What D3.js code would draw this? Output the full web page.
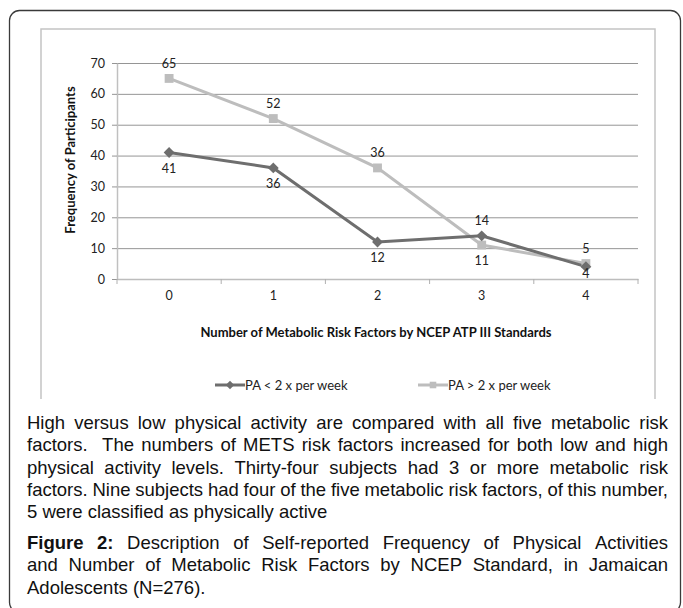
<!DOCTYPE html>
<html>
<head>
<meta charset="utf-8">
<script src="https://cdn.jsdelivr.net/npm/d3@7"></script>
<style>
  body { margin: 0; background: #fff; }
  svg { display: block; }
</style>
</head>
<body>
<svg id="chart" width="683" height="608"></svg>
<script>
// data
var categories = ["0", "1", "2", "3", "4"];
var lowPA = [41, 36, 12, 14, 4];     // PA < 2 x per week
var highPA = [65, 52, 36, 11, 5];    // PA > 2 x per week
var lowLabelSide = ["below", "below", "below", "above", "below"];
var highLabelSide = ["above", "above", "above", "below", "above"];
var yTicks = [0, 10, 20, 30, 40, 50, 60, 70];
var seriesNames = ["PA < 2 x per week", "PA > 2 x per week"];
var xTitle = "Number of Metabolic Risk Factors by NCEP ATP III Standards";
var yTitle = "Frequency of Participants";

var captionLines = [
  "High versus low physical activity are compared with all five metabolic risk",
  "factors.  The numbers of METS risk factors increased for both low and high",
  "physical activity levels. Thirty-four subjects had 3 or more metabolic risk",
  "factors. Nine subjects had four of the five metabolic risk factors, of this number,",
  "5 were classified as physically active"
];
var figureLines = [
  "**Figure 2:** Description of Self-reported Frequency of Physical Activities",
  "and Number of Metabolic Risk Factors by NCEP Standard, in Jamaican",
  "Adolescents (N=276)."
];

var svg = d3.select("#chart");
var chartFont = "Lato, 'Open Sans', sans-serif";
var darkCol = "#6e6e6e", lightCol = "#bdbdbd";
var labelSize = 12.5;

// outer rounded frame
svg.append("rect")
  .attr("x", 9.5).attr("y", 10.5)
  .attr("width", 671).attr("height", 602)
  .attr("rx", 10)
  .attr("fill", "none")
  .attr("stroke", "#3a3a3a")
  .attr("stroke-width", 1.3);

// chart area frame (bottom edge cut off)
svg.append("path")
  .attr("d", "M41,399 V29 H655 V399")
  .attr("fill", "none")
  .attr("stroke", "#c4c4c4")
  .attr("stroke-width", 1.5);

var x = d3.scaleBand().domain(categories).range([117, 638]);
var y = d3.scaleLinear().domain([0, 70]).range([279, 63]);

// gridlines
svg.append("g")
  .attr("transform", "translate(117,0)")
  .call(d3.axisLeft(y).tickValues(yTicks).tickSize(-(638 - 117)).tickFormat(""))
  .call(function(g) {
    g.select(".domain").remove();
    g.selectAll("line").attr("stroke", "#959595").attr("stroke-width", 1);
  });

// y axis
svg.append("g")
  .attr("transform", "translate(117,0)")
  .call(d3.axisLeft(y).tickValues(yTicks).tickSize(5).tickPadding(7).tickSizeOuter(0))
  .call(function(g) {
    g.select(".domain").attr("stroke", "#c0c0c0").attr("stroke-width", 1.5);
    g.selectAll("line").attr("stroke", "#959595");
    g.selectAll("text").attr("font-family", chartFont).attr("font-size", labelSize).attr("fill", "#222");
  });

// x axis
var xAxis = svg.append("g")
  .attr("transform", "translate(0,279)")
  .call(d3.axisBottom(x).tickSize(0).tickPadding(12).tickSizeOuter(0))
  .call(function(g) {
    g.select(".domain").attr("stroke", "#bdbdbd").attr("stroke-width", 1.5);
    g.selectAll("text").attr("font-family", chartFont).attr("font-size", labelSize).attr("fill", "#222");
  });

// tick marks at the category boundaries
var edges = categories.map(function(c) { return x(c); }).concat([x.range()[1]]);
xAxis.selectAll(".edge")
  .data(edges)
  .enter().append("line")
  .attr("x1", function(d) { return d; })
  .attr("x2", function(d) { return d; })
  .attr("y1", 0).attr("y2", 5)
  .attr("stroke", "#b0b0b0");

// axis titles
svg.append("text")
  .attr("x", 376).attr("y", 337)
  .attr("text-anchor", "middle")
  .attr("font-family", chartFont).attr("font-weight", "bold").attr("font-size", 13)
  .attr("fill", "#111")
  .text(xTitle);

svg.append("text")
  .attr("transform", "translate(75,160) rotate(-90)")
  .attr("text-anchor", "middle")
  .attr("font-family", chartFont).attr("font-weight", "bold").attr("font-size", 13)
  .attr("fill", "#111")
  .text(yTitle);

var cx = function(d, i) { return x(categories[i]) + x.bandwidth() / 2; };
var line = d3.line()
  .x(function(d, i) { return cx(d, i); })
  .y(function(d) { return y(d); });

var diamond = d3.symbol().type(d3.symbolDiamond2).size(75);
var square = d3.symbol().type(d3.symbolSquare2).size(100);

// light series first (drawn under dark one)
svg.append("path")
  .datum(highPA)
  .attr("d", line)
  .attr("fill", "none")
  .attr("stroke", lightCol)
  .attr("stroke-width", 3);

svg.append("path")
  .datum(lowPA)
  .attr("d", line)
  .attr("fill", "none")
  .attr("stroke", darkCol)
  .attr("stroke-width", 3);

svg.selectAll(".sq")
  .data(highPA)
  .enter().append("path")
  .attr("class", "sq")
  .attr("transform", function(d, i) { return "translate(" + cx(d, i) + "," + y(d) + ")"; })
  .attr("d", square)
  .attr("fill", lightCol);

svg.selectAll(".dm")
  .data(lowPA)
  .enter().append("path")
  .attr("class", "dm")
  .attr("transform", function(d, i) { return "translate(" + cx(d, i) + "," + y(d) + ")"; })
  .attr("d", diamond)
  .attr("fill", darkCol);

// data labels; labels below a point stay above the x axis
function addLabels(values, sides, cls) {
  svg.selectAll("." + cls)
    .data(values)
    .enter().append("text")
    .attr("class", cls)
    .attr("x", function(d, i) { return cx(d, i); })
    .attr("y", function(d, i) {
      if (sides[i] == "above") return y(d) - 15;
      return Math.min(y(d) + 16, y(0) - 5);
    })
    .attr("dy", "0.35em")
    .attr("text-anchor", "middle")
    .attr("font-family", chartFont).attr("font-size", labelSize)
    .attr("fill", "#222")
    .text(function(d) { return d; });
}
addLabels(highPA, highLabelSide, "hl");
addLabels(lowPA, lowLabelSide, "ll");

// legend
var legend = svg.append("g");
var legendItems = [
  {name: seriesNames[0], color: darkCol, sym: d3.symbol().type(d3.symbolDiamond2).size(45), x0: 215},
  {name: seriesNames[1], color: lightCol, sym: d3.symbol().type(d3.symbolSquare2).size(55), x0: 418}
];
legendItems.forEach(function(it) {
  legend.append("line")
    .attr("x1", it.x0).attr("x2", it.x0 + 30)
    .attr("y1", 385).attr("y2", 385)
    .attr("stroke", it.color).attr("stroke-width", 3);
  legend.append("path")
    .attr("transform", "translate(" + (it.x0 + 15) + ",385)")
    .attr("d", it.sym)
    .attr("fill", it.color);
  legend.append("text")
    .attr("x", it.x0 + 30).attr("y", 385)
    .attr("dy", "0.35em")
    .attr("font-family", chartFont).attr("font-size", 13)
    .attr("fill", "#222")
    .text(it.name);
});

// caption, justified by hand
var capFont = "'Liberation Sans', Arial, sans-serif";
var capSize = 18.5;
var left = 27, right = 668;

function measure(word, bold) {
  var t = svg.append("text")
    .attr("font-family", capFont).attr("font-size", capSize)
    .attr("font-weight", bold ? "bold" : "normal")
    .text(word);
  var w = t.node().getComputedTextLength();
  t.remove();
  return w;
}

function drawLine(str, baseline, justify) {
  var words = [];
  var parts = str.split(/(\*\*.*?\*\*)/);
  parts.forEach(function(p) {
    if (!p.length) return;
    var bold = /^\*\*/.test(p);
    var ws = p.replace(/\*\*/g, "").split(" ");
    ws.forEach(function(w, k) {
      // empty pieces (double spaces) become an extra gap
      if (w.length || (k > 0 && k < ws.length - 1)) words.push({text: w, bold: bold});
    });
  });
  var space = measure("a b", false) - measure("ab", false);
  words.forEach(function(w) { w.width = w.text.length ? measure(w.text, w.bold) : 0; });
  var total = d3.sum(words, function(w) { return w.width; });
  var gap = space;
  var squeeze = 1;
  if (justify) {
    gap = (right - left - total) / (words.length - 1);
    if (gap < space * 0.8) {
      gap = space * 0.8;
      squeeze = (right - left) / (total + gap * (words.length - 1));
    }
  }
  var g = svg.append("g")
    .attr("transform", "translate(" + left + "," + baseline + ") scale(" + squeeze + ",1)");
  var pos = 0;
  words.forEach(function(w) {
    if (w.text.length) {
      g.append("text")
        .attr("x", pos)
        .attr("font-family", capFont).attr("font-size", capSize)
        .attr("font-weight", w.bold ? "bold" : "normal")
        .attr("fill", "#111")
        .text(w.text);
    }
    pos += w.width + gap;
  });
}

captionLines.forEach(function(s, i) {
  drawLine(s, 429 + i * 22.3, i < captionLines.length - 1);
});
figureLines.forEach(function(s, i) {
  drawLine(s, 549 + i * 22.3, i < figureLines.length - 1);
});
</script>
</body>
</html>
